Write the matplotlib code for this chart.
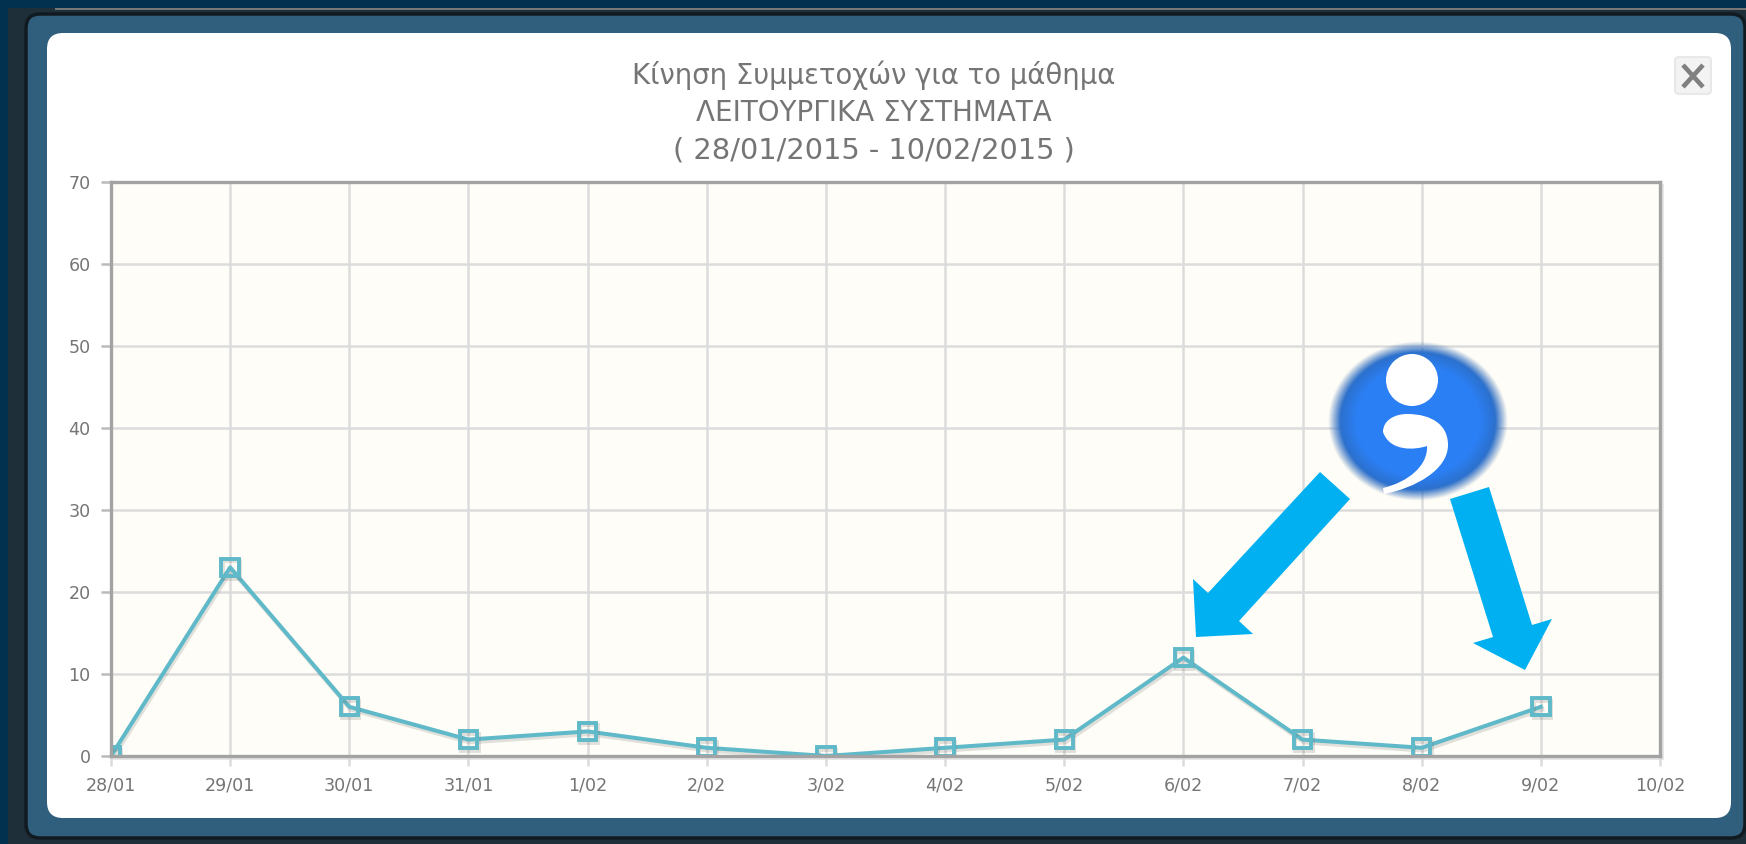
import numpy as np
import matplotlib
matplotlib.use("Agg")
import matplotlib.pyplot as plt
import matplotlib.patheffects as pe
from matplotlib.patches import FancyBboxPatch, Rectangle, Polygon, Circle, PathPatch
from matplotlib.path import Path

W, H = 1746, 844

# data
dates = ["28/01", "29/01", "30/01", "31/01", "1/02", "2/02", "3/02",
         "4/02", "5/02", "6/02", "7/02", "8/02", "9/02", "10/02"]
counts = [0, 23, 6, 2, 3, 1, 0, 1, 2, 12, 2, 1, 6]
y_ticks = [0, 10, 20, 30, 40, 50, 60, 70]
title_lines = ["Κίνηση Συμμετοχών για το μάθημα",
               "ΛΕΙΤΟΥΡΓΙΚΑ ΣΥΣΤΗΜΑΤΑ",
               "( 28/01/2015 - 10/02/2015 )"]
title_sizes = [19.8, 20, 20.8]

TEXT = "#757575"
GRID = "#dcdcdc"
LINE = "#5fb9c9"

plt.rcParams["font.family"] = ["DejaVu Sans"]
fig = plt.figure(figsize=(W / 100, H / 100), dpi=100, facecolor="#02304f")


def pixel_axes(zorder):
    a = fig.add_axes([0, 0, 1, 1], zorder=zorder)
    a.set_xlim(0, W)
    a.set_ylim(H, 0)
    a.axis("off")
    a.patch.set_alpha(0)
    return a


# window frame behind the chart
bg = pixel_axes(0)
bg.add_patch(Rectangle((8, 8), W, H, fc="#1f2f3a", ec="none"))
bg.add_patch(Rectangle((55, 8), W, 2, fc="#777777", ec="none"))
bg.add_patch(FancyBboxPatch((26, 14), 1719, 824, boxstyle="round,pad=0,rounding_size=14",
                            fc="#305f7e", ec="#111a20", lw=2.5))
bg.add_patch(FancyBboxPatch((47, 33), 1684, 785, boxstyle="round,pad=0,rounding_size=16",
                            fc="white", ec="none"))
bg.add_patch(Rectangle((113, 184), 1551, 576, fc="#e6e6e6", ec="none"))

# chart
ax_l, ax_r, ax_t, ax_b = 111, 1660, 182, 756
ax = fig.add_axes([ax_l / W, 1 - ax_b / H, (ax_r - ax_l) / W, (ax_b - ax_t) / H], zorder=1)
ax.set_facecolor("#fffdf7")
ax.set_xlim(0, len(dates) - 1)
ax.set_ylim(0, 70)
ax.set_xticks(range(len(dates)))
ax.set_xticklabels(dates)
ax.set_yticks(y_ticks)
ax.grid(True, color=GRID, lw=1.8)
ax.set_axisbelow(True)
ax.tick_params(axis="both", length=7.5, width=1.8, color=GRID, labelcolor=TEXT, labelsize=12.6)
ax.tick_params(axis="x", pad=7)
ax.tick_params(axis="y", pad=7, color="#bbbbbb")
for s in ax.spines.values():
    s.set_color("#a3a3a3")
    s.set_linewidth(2.4)
ax.plot(range(len(counts)), counts, color=LINE, lw=2.9, marker="s", ms=12.5, mfc="none",
        mew=2.8, mec=LINE,
        path_effects=[pe.SimpleLineShadow(offset=(1, -2), shadow_color="#777777", alpha=0.22),
                      pe.Normal()])

# overlay: title, close button, arrows, badge
top = pixel_axes(2)
for line, y, size in zip(title_lines, [75, 113, 150], title_sizes):
    top.text(874, y, line, ha="center", va="center", fontsize=size, color=TEXT)

top.add_patch(FancyBboxPatch((1675, 57), 36, 37, boxstyle="round,pad=0,rounding_size=4",
                             fc="#f3f3f3", ec="#e8e8e8", lw=1.5))
top.plot([1683, 1703], [65, 87], color="#808080", lw=3.3, solid_capstyle="butt")
top.plot([1703, 1683], [65, 87], color="#808080", lw=3.3, solid_capstyle="butt")

# blue badge with soft edge
gx, gy = np.meshgrid(np.linspace(-1.2, 1.2, 300), np.linspace(-1.2, 1.2, 300))
r = np.hypot(gx, gy)
badge = np.zeros((300, 300, 4))
shade = np.clip((r - 0.7) / 0.3, 0, 1)[..., None]
badge[..., :3] = (1 - shade) * np.array([0.17, 0.50, 0.96]) + shade * np.array([0.17, 0.40, 0.70])
badge[..., 3] = np.clip((1.02 - r) / 0.14, 0, 1)
cx, cy, rx, ry = 1418, 421, 88, 78
top.imshow(badge, extent=(cx - 1.2 * rx, cx + 1.2 * rx, cy + 1.2 * ry, cy - 1.2 * ry),
           aspect="auto", zorder=2, interpolation="bilinear")
top.set_xlim(0, W)
top.set_ylim(H, 0)

top.add_patch(Circle((1412, 380), 26, fc="white", ec="none", zorder=3))
comma = Path([(1383, 432), (1383, 420), (1395, 414), (1407, 414),
              (1432, 414), (1448, 425), (1448, 445),
              (1448, 470), (1415, 488), (1384, 494),
              (1383, 488), (1408, 482), (1428, 466), (1427, 446),
              (1415, 450), (1390, 452), (1383, 432)],
             [Path.MOVETO, Path.CURVE4, Path.CURVE4, Path.CURVE4,
              Path.CURVE4, Path.CURVE4, Path.CURVE4,
              Path.CURVE4, Path.CURVE4, Path.CURVE4,
              Path.LINETO, Path.CURVE4, Path.CURVE4, Path.CURVE4,
              Path.CURVE4, Path.CURVE4, Path.CURVE4])
top.add_patch(PathPatch(comma, fc="white", ec="none", zorder=3))

ARROW = "#00b0f0"
top.add_patch(Polygon([(1320, 472), (1350, 499), (1239, 621), (1253, 634), (1196, 637),
                       (1193, 579), (1208, 593)], fc=ARROW, ec="none", zorder=4))
top.add_patch(Polygon([(1450, 499), (1489, 487), (1532, 625), (1552, 619), (1525, 670),
                       (1473, 643), (1493, 637)], fc=ARROW, ec="none", zorder=4))

fig.savefig("out.png", dpi=100)
